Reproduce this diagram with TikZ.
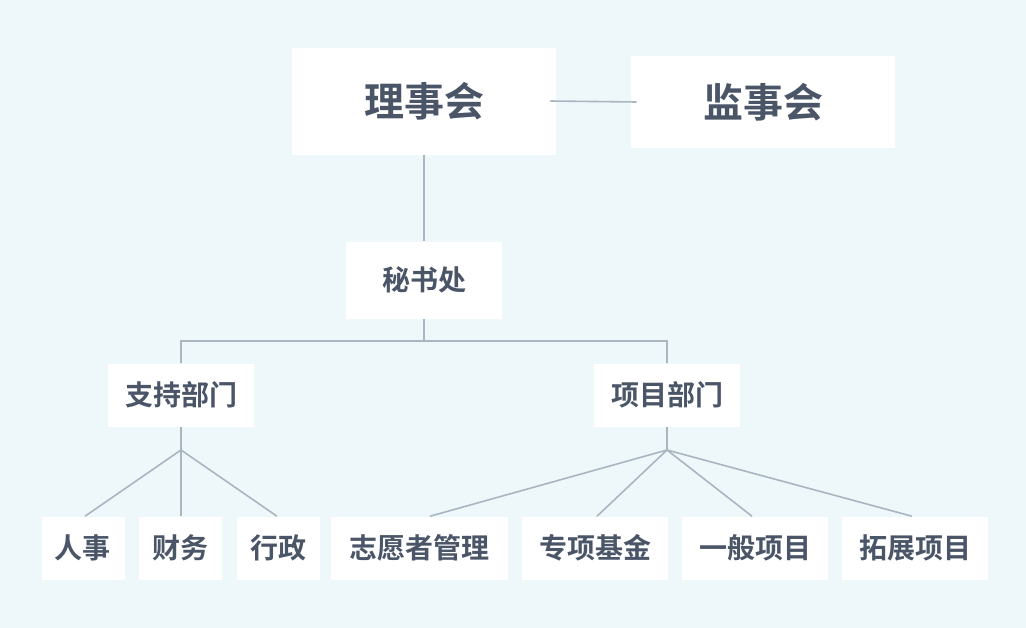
\documentclass[tikz,border=0pt]{standalone}
\usepackage{fontspec}
\setmainfont{Noto Sans CJK SC}[BoldFont={* Bold}]
\definecolor{bgblue}{HTML}{EEF7FA}
\definecolor{ink}{HTML}{4A5568}
\definecolor{wire}{HTML}{A9B6C2}
\tikzstyle{box}=[%
	fill=white, draw=none, inner sep=0, text=ink, font=\bfseries
]
\tikzstyle{small}=[box, minimum height=63*0.75pt, font=\bfseries\fontsize{21}{21}\selectfont]

\begin{document}
\begin{tikzpicture}[x=0.75pt, y=-0.75pt]
	\fill[bgblue] (0,0) rectangle (1026,628);
	\useasboundingbox (0,0) rectangle (1026,628);

	\node[box, minimum width=264*0.75pt, minimum height=107*0.75pt, font=\bfseries\fontsize{30}{30}\selectfont] (board) at (424,101) {理事会};
	\node[box, minimum width=264*0.75pt, minimum height=92*0.75pt, font=\bfseries\fontsize{30}{30}\selectfont] (super) at (763,102) {监事会};
	\node[small, minimum width=156*0.75pt, minimum height=77*0.75pt] (sec) at (424,280) {秘书处};

	\node[small, minimum width=146*0.75pt] (supp) at (181,395) {支持部门};
	\node[small, minimum width=146*0.75pt] (proj) at (667,395) {项目部门};

	\node[small, minimum width=83*0.75pt] (hr) at (83,548) {人事};
	\node[small, minimum width=83*0.75pt] (fin) at (180,548) {财务};
	\node[small, minimum width=83*0.75pt] (adm) at (278,548) {行政};
	\node[small, minimum width=177*0.75pt] (vol) at (419,548) {志愿者管理};
	\node[small, minimum width=146*0.75pt] (fund) at (595,548) {专项基金};
	\node[small, minimum width=146*0.75pt] (gen) at (755,548) {一般项目};
	\node[small, minimum width=146*0.75pt] (ext) at (915,548) {拓展项目};

	\begin{scope}[draw=wire, line width=1.2pt]
		\draw ([xshift=-6*0.75pt]board.east) -- ([xshift=6*0.75pt]super.west);
		\draw (board.south) -- (sec.north);
		\draw (sec.south) -- ++(0,22) -| (supp.north);
		\draw (sec.south) ++(0,22) -| (proj.north);

		\coordinate (sfork) at (181,450);
		\coordinate (pfork) at (667,450);
		\draw (supp.south) -- (sfork);
		\draw (proj.south) -- (pfork);
		\foreach \n/\dx in {hr/2, fin/1, adm/-1} {
			\draw (sfork) -- ([xshift=\dx*0.75pt]\n.north);
		}
		\foreach \n/\dx in {vol/11, fund/2, gen/-3, ext/-3} {
			\draw (pfork) -- ([xshift=\dx*0.75pt]\n.north);
		}
	\end{scope}
\end{tikzpicture}
\end{document}
